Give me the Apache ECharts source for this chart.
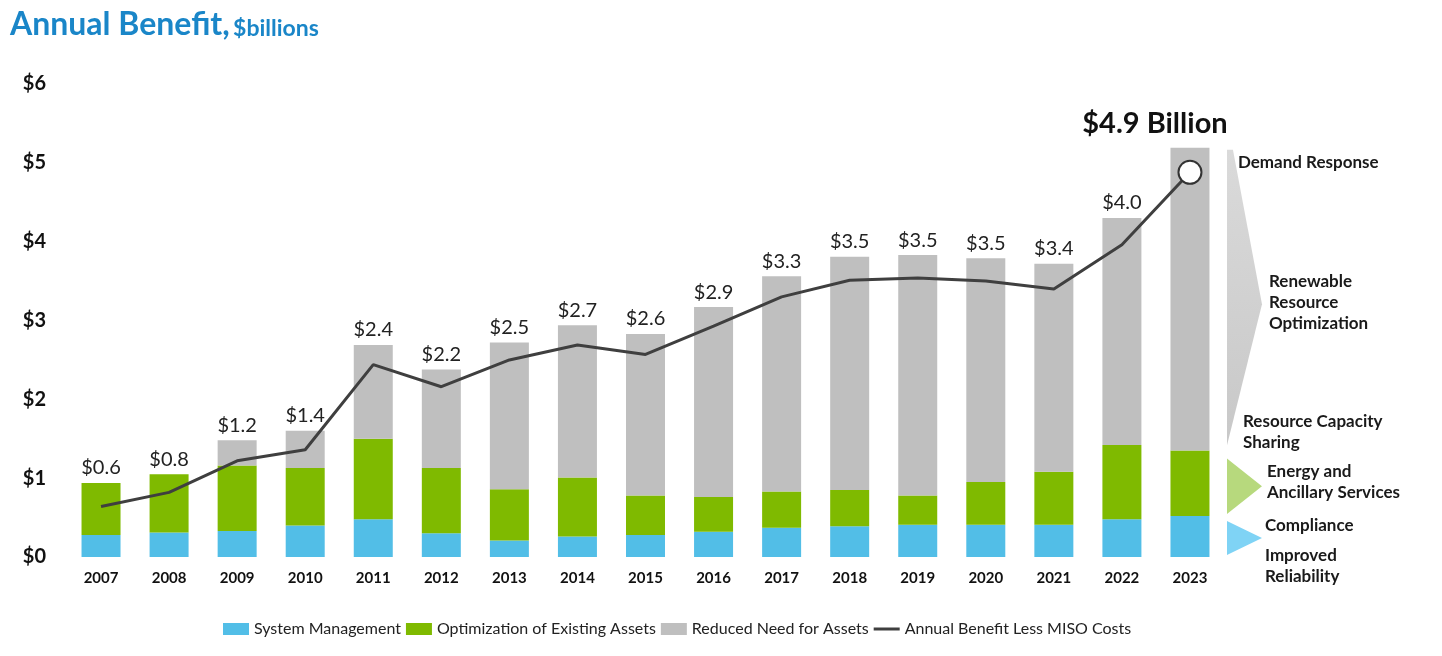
<!DOCTYPE html>
<html>
<head>
<meta charset="utf-8">
<script src="https://cdn.jsdelivr.net/npm/echarts@6/dist/echarts.min.js"></script>
<style>
html,body{margin:0;padding:0;background:#fff;}
#chart{width:1442px;height:656px;}
</style>
</head>
<body>
<div id="chart"></div>
<script>
const years = ['2007','2008','2009','2010','2011','2012','2013','2014','2015','2016','2017','2018','2019','2020','2021','2022','2023'];
const systemManagement = [0.28,0.31,0.33,0.40,0.48,0.30,0.21,0.26,0.28,0.32,0.37,0.39,0.41,0.41,0.41,0.48,0.52];
const optimizationExisting = [0.66,0.74,0.83,0.73,1.02,0.83,0.65,0.75,0.50,0.44,0.46,0.46,0.37,0.54,0.67,0.94,0.83];
const reducedNeed = [0,0,0.32,0.47,1.19,1.25,1.86,1.93,2.05,2.41,2.73,2.96,3.05,2.84,2.64,2.88,3.84];
const netBenefit = [0.64,0.82,1.22,1.36,2.44,2.16,2.50,2.69,2.57,2.93,3.30,3.51,3.54,3.50,3.40,3.96,4.88];
const barLabels = ['$0.6','$0.8','$1.2','$1.4','$2.4','$2.2','$2.5','$2.7','$2.6','$2.9','$3.3','$3.5','$3.5','$3.5','$3.4','$4.0','$4.9 Billion'];
const yTicks = [0,1,2,3,4,5,6];

const FONT = 'Lato, "Noto Sans", sans-serif';
const chart = echarts.init(document.getElementById('chart'));
const last = years.length - 1;

const grayData = reducedNeed.map((v, i) => i === last ? {
  value: v,
  label: {offset: [-35, -5], fontSize: 29, fontWeight: 'bold', color: '#111'}
} : v);
const lineData = netBenefit.map((v, i) => i === last ? {
  value: v, symbol: 'circle', symbolSize: 23,
  itemStyle: {color: '#fff', borderColor: '#333', borderWidth: 2}
} : {value: v, symbol: 'none'});

const titleGraphic = {type: 'text', left: 10, top: 9, style: {
  text: '{a|Annual Benefit,} {b|$billions}',
  rich: {
    a: {fontFamily: FONT, fontSize: 32, fontWeight: 'bold', fill: '#1a86c8', color: '#1a86c8'},
    b: {fontFamily: FONT, fontSize: 23, fontWeight: 'bold', fill: '#1a86c8', color: '#1a86c8', padding: [7,0,0,0]}
  }
}};

chart.setOption({
  animation: false,
  textStyle: {fontFamily: FONT},
  graphic: [titleGraphic],
  grid: {left: 67, right: 218, top: 84, bottom: 99},
  legend: {
    left: 218, bottom: 14, itemWidth: 26, itemHeight: 12, itemGap: 5,
    textStyle: {fontSize: 16, color: '#222', fontFamily: FONT},
    data: [
      {name: 'System Management', icon: 'rect'},
      {name: 'Optimization of Existing Assets', icon: 'rect'},
      {name: 'Reduced Need for Assets', icon: 'rect'},
      {name: 'Annual Benefit Less MISO Costs', icon: 'path://M0,0L0,0M0,4.5L26,4.5L26,7.5L0,7.5ZM26,12L26,12', itemStyle: {color: '#3f3f3f'}}
    ]
  },
  xAxis: {
    type: 'category', data: years, boundaryGap: true,
    axisLine: {show: false}, axisTick: {show: false},
    axisLabel: {fontSize: 15, fontWeight: 'bold', color: '#111', margin: 14}
  },
  yAxis: {
    type: 'value', min: 0, max: 6, interval: 1,
    splitLine: {show: false}, axisLine: {show: false}, axisTick: {show: false},
    axisLabel: {fontSize: 20, fontWeight: 'bold', color: '#111', margin: 21,
      formatter: v => yTicks.includes(v) ? '$' + v : ''}
  },
  series: [
    {name: 'System Management', type: 'bar', stack: 'b', barWidth: 39,
     itemStyle: {color: '#52bee7'}, data: systemManagement},
    {name: 'Optimization of Existing Assets', type: 'bar', stack: 'b', barWidth: 39,
     itemStyle: {color: '#7fba00'}, data: optimizationExisting},
    {name: 'Reduced Need for Assets', type: 'bar', stack: 'b', barWidth: 39,
     itemStyle: {color: '#bfbfbf'}, data: grayData,
     label: {show: true, position: 'top', distance: 5, fontSize: 20, color: '#222',
       formatter: p => barLabels[p.dataIndex]}},
    {name: 'Annual Benefit Less MISO Costs', type: 'line', data: lineData,
     symbol: 'none', showAllSymbol: true, z: 5,
     lineStyle: {color: '#3f3f3f', width: 3}, itemStyle: {color: '#3f3f3f'}}
  ]
});

// Right-side annotation wedges aligned to 2023 stack
const xc = chart.convertToPixel({xAxisIndex: 0}, years[last]);
const y = v => chart.convertToPixel({yAxisIndex: 0}, v);
const s1 = systemManagement[last];
const s2 = s1 + optimizationExisting[last];
const s3 = s2 + reducedNeed[last];
const xl = xc + 37, xr = xc + 72;
const tri = (top, bot, fill) => ({type: 'polygon', shape: {points: [[xl, top], [xr, (top + bot) / 2], [xl, bot]]}, style: {fill: fill}});
const txt = (x, yy, t) => ({type: 'text', x: x, y: yy, style: {text: t, fontFamily: FONT, fontSize: 17, fontWeight: 'bold', fill: '#1a1a1a', lineHeight: 21, textVerticalAlign: 'middle'}});
chart.setOption({
  graphic: [
    titleGraphic,
    {type: 'polygon', shape: {points: [[xl, y(s3) + 2], [xl + 6, y(s3) + 2], [xr, (y(s3) + y(s2)) / 2 + 5], [xl, y(s2) - 5]]},
     style: {fill: new echarts.graphic.LinearGradient(0, 0, 0, 1, [{offset: 0, color: '#dadada'}, {offset: 1, color: '#c8c8c8'}])}},
    tri(y(s2) + 8, y(s1) - 2, '#b7d97d'),
    tri(y(s1) + 5, y(0) - 2, '#7fd3f5'),
    txt(xc + 48, y(s3) + 15, 'Demand Response'),
    txt(xc + 79, y(s3) + 155, 'Renewable\nResource\nOptimization'),
    txt(xc + 53, y(s2) - 19, 'Resource Capacity\nSharing'),
    txt(xc + 77, y(s2) + 31, 'Energy and\nAncillary Services'),
    txt(xc + 75, y(s1) + 10, 'Compliance'),
    txt(xc + 75, y(0) + 9, 'Improved\nReliability')
  ]
});
</script>
</body>
</html>
